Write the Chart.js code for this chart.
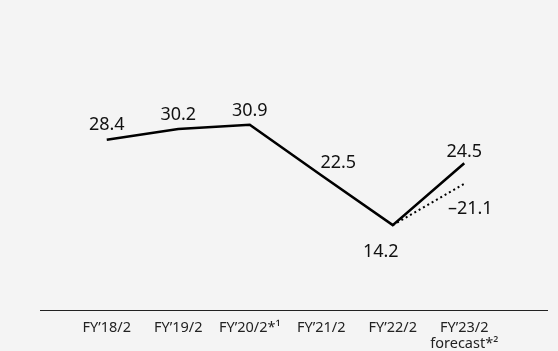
<!DOCTYPE html>
<html>
<head>
<meta charset="utf-8">
<script src="https://cdn.jsdelivr.net/npm/chart.js@4/dist/chart.umd.min.js"></script>
<style>
  html, body { margin: 0; padding: 0; background: #f4f4f4; }
  #wrap { width: 558px; height: 351px; }
</style>
</head>
<body>
<div id="wrap"><canvas id="myChart"></canvas></div>
<script>
// categories and values
const years = ["FY\u201918/2", "FY\u201919/2", "FY\u201920/2*\u00b9", "FY\u201921/2", "FY\u201922/2", ["FY\u201923/2", "forecast*\u00b2"]];
const actual = [28.4, 30.2, 30.9, 22.5, 14.2, 24.5];
const alt = [null, null, null, null, 14.2, 21.1];
const altLabel = "\u201321.1";

// where each value label sits relative to its point [dx, dy]
const labelOffsets = [[0, -15], [0, -14], [0, -14], [17, -12], [-12, 27], [0, -11]];

const valueLabels = {
  id: "valueLabels",
  afterDatasetsDraw(chart) {
    const ctx = chart.ctx;
    const x = chart.scales.x;
    const y = chart.scales.y;
    ctx.save();
    ctx.font = "18px 'Noto Sans'";
    ctx.fillStyle = "#111";
    ctx.textAlign = "center";
    ctx.textBaseline = "middle";
    actual.forEach((v, i) => {
      ctx.fillText(v.toFixed(1), x.getPixelForValue(i) + labelOffsets[i][0], y.getPixelForValue(v) + labelOffsets[i][1]);
    });
    ctx.fillText(altLabel, x.getPixelForValue(5) + 6, y.getPixelForValue(alt[5]) + 25);
    ctx.restore();
  }
};

const baseLine = {
  id: "baseLine",
  afterDraw(chart) {
    const ctx = chart.ctx;
    const b = chart.chartArea.bottom;
    ctx.save();
    ctx.strokeStyle = "#222";
    ctx.lineWidth = 1.2;
    ctx.beginPath();
    ctx.moveTo(40, b);
    ctx.lineTo(548, b);
    ctx.stroke();
    ctx.restore();
  }
};

new Chart(document.getElementById("myChart"), {
  type: "line",
  data: {
    labels: years,
    datasets: [
      {
        data: actual,
        borderColor: "#000",
        borderWidth: 2.6,
        pointRadius: 0,
        tension: 0
      },
      {
        data: alt,
        borderColor: "#000",
        borderWidth: 2,
        borderDash: [2, 3],
        pointRadius: 0,
        tension: 0
      }
    ]
  },
  options: {
    responsive: true,
    maintainAspectRatio: false,
    animation: false,
    layout: { padding: { left: 71, right: 58, top: 10, bottom: -10 } },
    plugins: { legend: { display: false }, tooltip: { enabled: false } },
    scales: {
      x: {
        offset: true,
        grid: { display: false, drawTicks: false },
        border: { display: false },
        ticks: {
          color: "#222",
          font: { family: "Noto Sans", size: 14.5, lineHeight: 1.12 },
          padding: 9,
          maxRotation: 0,
          autoSkip: false
        }
      },
      y: {
        display: false,
        min: 0,
        max: 50
      }
    }
  },
  plugins: [valueLabels, baseLine]
});
</script>
</body>
</html>
